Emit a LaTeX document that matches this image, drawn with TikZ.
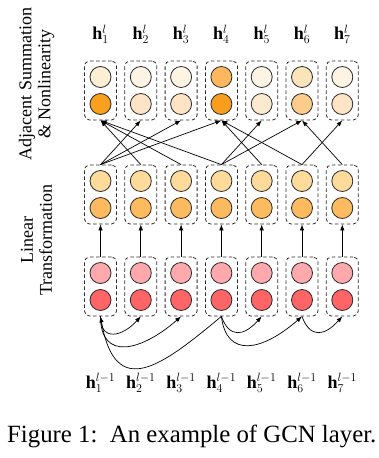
\documentclass[tikz,border=0pt]{standalone}
\usepackage{fontspec}
\setmainfont{Liberation Serif}
\usetikzlibrary{arrows.meta}
\definecolor{t1a}{HTML}{FCEFD3}\definecolor{t1b}{HTML}{F9A01E}
\definecolor{t2a}{HTML}{FDF4E3}\definecolor{t2b}{HTML}{FDE4C6}
\definecolor{t3a}{HTML}{FDF4E3}\definecolor{t3b}{HTML}{FDE4C6}
\definecolor{t4a}{HTML}{FDB85F}\definecolor{t4b}{HTML}{F99D1E}
\definecolor{t5a}{HTML}{FDF4E3}\definecolor{t5b}{HTML}{FDE9D0}
\definecolor{t6a}{HTML}{FCE4BA}\definecolor{t6b}{HTML}{FCCC8C}
\definecolor{t7a}{HTML}{FDF4E3}\definecolor{t7b}{HTML}{FDE4C6}
\definecolor{ma}{HTML}{FEDA9B}\definecolor{mb}{HTML}{FDBA5E}
\definecolor{ba}{HTML}{FFA9AD}\definecolor{bb}{HTML}{FF6567}
\definecolor{edge}{HTML}{2A2A2A}
\begin{document}
\begin{tikzpicture}[x=1pt,y=-1pt,
  box/.style={draw=edge, dash pattern=on 3.5pt off 2.5pt, line width=0.8pt, rounded corners=5pt, minimum width=32pt, minimum height=59pt, inner sep=0pt},
  cell/.style={circle, draw=edge, line width=0.8pt, minimum size=21pt, inner sep=0pt},
  arr/.style={-{Latex[length=6pt,width=4.5pt]}, line width=0.7pt},
  lab/.style={font=\fontsize{18}{20}\selectfont, anchor=base, inner sep=0pt},
  side/.style={rotate=90, align=center, font=\fontsize{18}{19}\selectfont, inner sep=0pt}]
\useasboundingbox (0,0) rectangle (378,458);
\foreach \i in {1,...,7}{
  \pgfmathsetmacro{\xx}{100.5+40.3*(\i-1)}
  \node[box] (tb\i) at (\xx,90.5) {};
  \node[cell, fill=t\i a] (tc\i a) at (\xx,77) {};
  \node[cell, fill=t\i b] (tc\i b) at (\xx,104) {};
  \node[box] (mb\i) at (\xx,194.5) {};
  \node[cell, fill=ma] (mc\i a) at (\xx,181) {};
  \node[cell, fill=mb] (mc\i b) at (\xx,208) {};
  \node[box] (bb\i) at (\xx,286.5) {};
  \node[cell, fill=ba] (bc\i a) at (\xx,273) {};
  \node[cell, fill=bb] (bc\i b) at (\xx,300) {};
  \node[lab] (tl\i) at (\xx,39.5) {$\mathbf{h}^{l}_{\i}$};
  \node[lab] (bl\i) at (\xx,388) {$\mathbf{h}^{l-1}_{\i}$};
  \draw[arr] (bb\i.north) -- (mb\i.south);
}
\foreach \s/\t in {2/1,3/1,4/1,1/2,1/3,1/4,5/4,6/4,4/5,4/6,7/6,6/7}{
  \draw[arr] (mb\s.north) -- (tb\t.south);
}
\draw[arr] (bb1.south) .. controls +(0,26) and +(-18,20) .. (bb2.south);
\draw[arr] (bb1.south) .. controls +(0,45) and +(-40,35) .. (bb3.south);
\draw[arr] (bb4.south) .. controls +(-60,50) and +(15,85) .. (bb1.south);
\draw[arr] (bb4.south) .. controls +(8,22) and +(-18,20) .. (bb5.south);
\draw[arr] (bb4.south) .. controls +(5,42) and +(-40,35) .. (bb6.south);
\draw[arr] (bb6.south) .. controls +(8,22) and +(-18,20) .. (bb7.south);
\node[side] (s1) at (36.5,84) {Adjacent Summation\\\& Nonlinearity};
\node[side] (s2) at (36.5,240) {Linear\\Transformation};
\node[anchor=base west, inner sep=0pt, font=\fontsize{24.8}{28}\selectfont] (cap) at (7,442) {Figure 1:\ \ An example of GCN layer.};
\end{tikzpicture}
\end{document}
